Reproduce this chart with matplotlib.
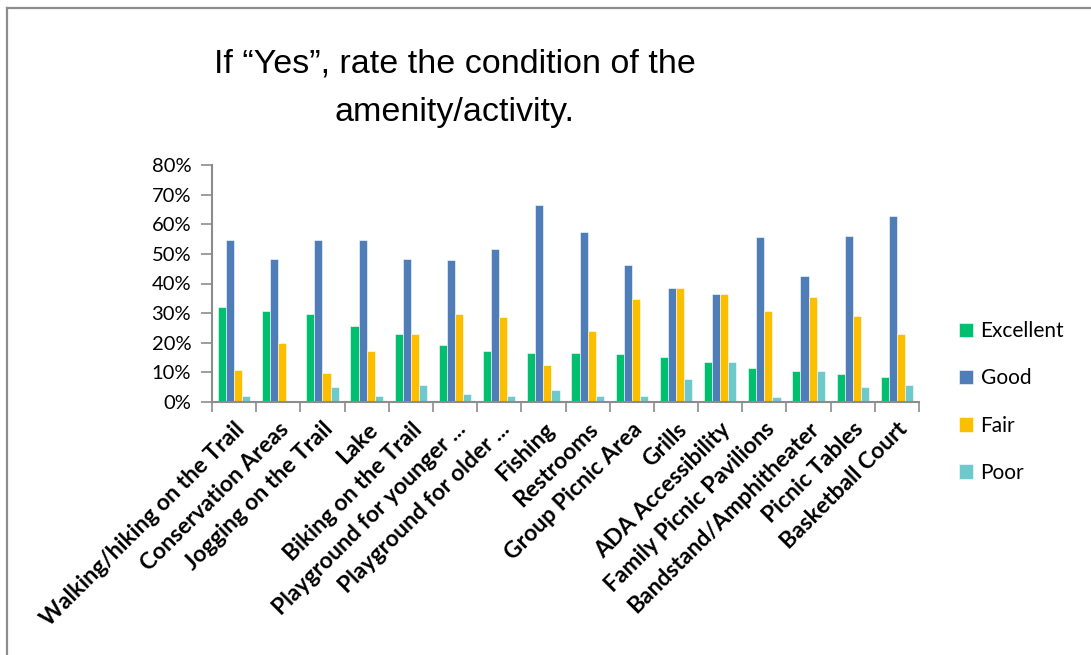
import numpy as np
import matplotlib
matplotlib.use("Agg")
import matplotlib.pyplot as plt
from matplotlib.lines import Line2D
from matplotlib.ticker import FixedLocator, FuncFormatter

categories = ["Walking/hiking on the Trail", "Conservation Areas", "Jogging on the Trail",
              "Lake", "Biking on the Trail", "Playground for younger ...",
              "Playground for older ...", "Fishing", "Restrooms", "Group Picnic Area",
              "Grills", "ADA Accessibility", "Family Picnic Pavilions",
              "Bandstand/Amphitheater", "Picnic Tables", "Basketball Court"]
excellent = [32.2, 30.7, 29.7, 25.5, 22.9, 19.3, 17.3, 16.6, 16.6, 16.2, 15.2, 13.6, 11.5, 10.5, 9.4, 8.3]
good      = [54.7, 48.4, 54.7, 54.7, 48.4, 47.9, 51.6, 66.5, 57.3, 46.3, 38.5, 36.4, 55.6, 42.6, 56.2, 62.9]
fair      = [10.9, 19.9, 9.9, 17.3, 22.9, 29.8, 28.7, 12.6, 24.0, 34.8, 38.5, 36.4, 30.7, 35.4, 29.1, 22.9]
poor      = [2.1, 0.5, 5.2, 2.1, 5.7, 2.7, 2.1, 4.1, 2.1, 2.1, 7.8, 13.6, 1.6, 10.5, 5.2, 5.7]
series = ["Excellent", "Good", "Fair", "Poor"]
colors = ["#00BF6F", "#4E7DB7", "#FBBF00", "#6DC9CC"]

plt.rcParams['font.family'] = ['Lato', 'DejaVu Sans']

fig = plt.figure(figsize=(10.91, 6.55), dpi=100)
ax = fig.add_axes([212/1091, 1 - 402/655, (919 - 212)/1091, (402 - 165)/655])

x = np.arange(len(categories))
w = 0.183
for k, (name, vals) in enumerate(zip(series, [excellent, good, fair, poor])):
    ax.bar(x + (k - 1.5) * w, vals, width=w, color=colors[k], label=name,
           edgecolor="white", linewidth=0.4)

ax.set_xlim(-0.5, len(categories) - 0.5)
ax.set_ylim(0, 80)
ax.set_yticks(np.arange(0, 81, 10))
ax.yaxis.set_major_formatter(FuncFormatter(lambda v, p: "%d%%" % v))
ax.tick_params(axis="y", direction="out", length=8, width=1.2, color="#8c8c8c",
               labelsize=14.5, pad=7)

ax.set_xticks(x)
ax.set_xticklabels(categories, rotation=45, ha="right", va="top",
                   rotation_mode="anchor", fontsize=16.5, fontweight="bold")
ax.tick_params(axis="x", which="major", length=0, pad=12)
ax.xaxis.set_minor_locator(FixedLocator(np.arange(-0.5, len(categories), 1)))
ax.tick_params(axis="x", which="minor", direction="out", length=7, width=1.2, color="#8c8c8c")

for s in ["top", "right"]:
    ax.spines[s].set_visible(False)
for s in ["left", "bottom"]:
    ax.spines[s].set_color("#8c8c8c")
    ax.spines[s].set_linewidth(1.5)

ax.legend(loc="center left", bbox_to_anchor=(940/1091, 1 - 402/655),
          bbox_transform=fig.transFigure, frameon=False, fontsize=15,
          handlelength=0.7, handleheight=0.7, handletextpad=0.35, labelspacing=1.3)

fig.text(455/1091, 1 - 88.5/655, "If \u201cYes\u201d, rate the condition of the\namenity/activity.",
         ha="center", va="center", fontsize=24.5, linespacing=1.72,
         family=["Liberation Sans Narrow", "Liberation Sans", "DejaVu Sans"])

# slide frame (top and left edges)
fig.add_artist(Line2D([7/1091, 1], [1 - 8/655, 1 - 8/655], color="#8c8c8c", lw=1.6,
                      transform=fig.transFigure))
fig.add_artist(Line2D([7/1091, 7/1091], [0, 1 - 8/655], color="#8c8c8c", lw=1.6,
                      transform=fig.transFigure))

fig.savefig("out.png", dpi=100)
